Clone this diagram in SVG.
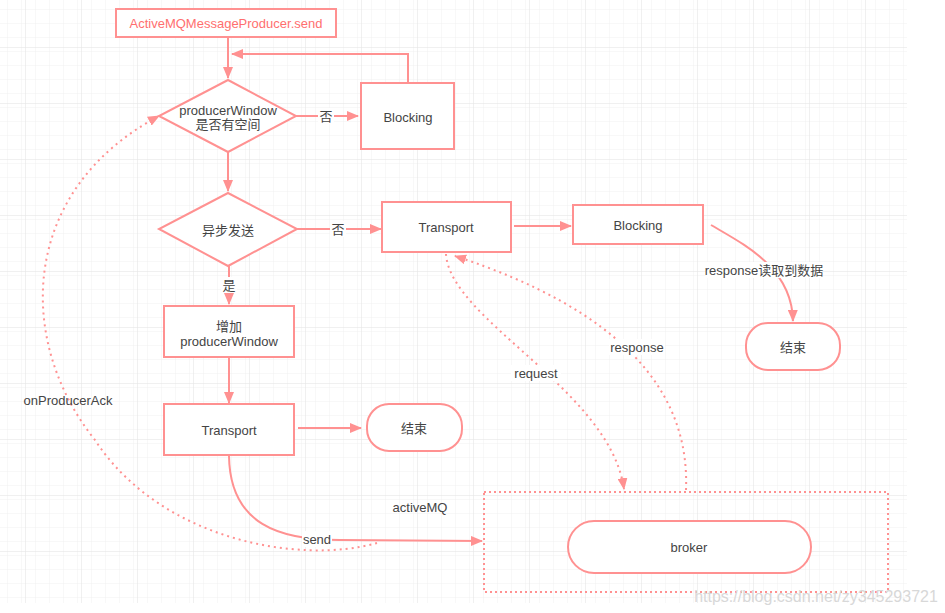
<svg xmlns="http://www.w3.org/2000/svg" width="945" height="613" viewBox="0 0 945 613">
<style>
.n{fill:#fff;stroke:#FF9191;stroke-width:2}
.t{font-family:"Liberation Sans","Noto Sans CJK SC",sans-serif;font-size:13px;fill:#444;text-anchor:middle;dominant-baseline:central}
.l{stroke:#FF9191;stroke-width:2;fill:none}
.d{stroke:#FF9191;stroke-width:2;fill:none;stroke-dasharray:2 4}
.bg{fill:#fff}
</style>
<defs>
<pattern id="gm" width="14" height="14" patternUnits="userSpaceOnUse" patternTransform="translate(25,47)">
<path d="M14,0V14M0,14H14" stroke="#f0f0f0" stroke-width="1" fill="none"/>
</pattern>
<pattern id="gM" width="56" height="56" patternUnits="userSpaceOnUse" patternTransform="translate(25,47)">
<rect width="56" height="56" fill="url(#gm)"/>
<path d="M0,0V56M0,0H56" stroke="#e2e2e2" stroke-width="1" fill="none"/>
</pattern>
<marker id="a" viewBox="0 0 12 10" refX="11" refY="5" markerWidth="12" markerHeight="10" markerUnits="userSpaceOnUse" orient="auto">
<path d="M0,0L12,5L0,10Z" fill="#FF9191"/>
</marker>
</defs>
<rect width="945" height="613" fill="#fff"/>
<rect x="0" y="0" width="907" height="603" fill="url(#gM)"/>

<g id="connectors">
<path class="l" d="M228,37V78" marker-end="url(#a)"/>
<path class="l" d="M408,83V54H232" marker-end="url(#a)"/>
<path class="l" d="M296,116H358" marker-end="url(#a)"/>
<rect class="bg" x="318" y="108" width="16" height="16"/>
<text class="t" x="326" y="116">否</text>
<path class="l" d="M228,152V191" marker-end="url(#a)"/>
<path class="l" d="M297,229H381" marker-end="url(#a)"/>
<rect class="bg" x="330" y="221" width="16" height="16"/>
<text class="t" x="338" y="229">否</text>
<path class="l" d="M229,266V304" marker-end="url(#a)"/>
<rect class="bg" x="221" y="277" width="16" height="16"/>
<text class="t" x="229" y="285">是</text>
<path class="l" d="M229,357V403" marker-end="url(#a)"/>
<path class="l" d="M298,428H361" marker-end="url(#a)"/>
<path class="l" d="M514,226H571" marker-end="url(#a)"/>
<path class="l" d="M711,225C745,245 792,268 793,321" marker-end="url(#a)"/>
<rect class="bg" x="706" y="262" width="116" height="16"/>
<text class="t" x="764" y="270">response读取到数据</text>
<path class="l" d="M229,456C230,525 280,540 340,540L482,541" marker-end="url(#a)"/>
<path class="d" d="M377,543C300,565 160,540 95,440C15,340 20,190 159,116" marker-end="url(#a)"/>
<rect class="bg" x="302" y="531" width="30" height="16"/>
<text class="t" x="317" y="539">send</text>
<path class="d" d="M446,254C450,320 610,390 624,489" marker-end="url(#a)"/>
<path class="d" d="M686,490C690,390 620,310 455,256" marker-end="url(#a)"/>
<rect class="bg" x="511" y="365" width="50" height="16"/>
<text class="t" x="536" y="373">request</text>
<rect class="bg" x="609" y="339" width="56" height="16"/>
<text class="t" x="637" y="347">response</text>
<text class="t" x="68" y="400">onProducerAck</text>
</g>

<g id="start">
<rect class="n" x="116" y="9" width="220" height="28"/>
<text class="t" x="226" y="23" style="fill:#FF6F6F">ActiveMQMessageProducer.send</text>
</g>
<g id="window-check">
<path class="n" d="M228,80L296,116L228,152L159,116Z"/>
<text class="t" x="228" y="110">producerWindow</text>
<text class="t" x="228" y="124">是否有空间</text>
</g>
<g id="blocking1">
<rect class="n" x="361" y="83" width="93" height="66"/>
<text class="t" x="408" y="117">Blocking</text>
</g>
<g id="async-check">
<path class="n" d="M228,193L297,229L228,266L159,229Z"/>
<text class="t" x="228" y="230">异步发送</text>
</g>
<g id="transport1">
<rect class="n" x="382" y="202" width="129" height="50"/>
<text class="t" x="446" y="227">Transport</text>
</g>
<g id="blocking2">
<rect class="n" x="573" y="205" width="130" height="39"/>
<text class="t" x="638" y="225">Blocking</text>
</g>
<g id="end2">
<rect class="n" x="746" y="323" width="94" height="47" rx="22"/>
<text class="t" x="793" y="347">结束</text>
</g>
<g id="add-window">
<rect class="n" x="164" y="306" width="130" height="51"/>
<text class="t" x="229" y="326">增加</text>
<text class="t" x="229" y="341">producerWindow</text>
</g>
<g id="transport2">
<rect class="n" x="164" y="404" width="130" height="51"/>
<text class="t" x="229" y="430">Transport</text>
</g>
<g id="end1">
<rect class="n" x="367" y="404" width="95" height="47" rx="22"/>
<text class="t" x="414" y="428">结束</text>
</g>
<g id="activemq">
<rect x="484" y="492" width="404" height="100" fill="none" stroke="#FF9191" stroke-width="2" stroke-dasharray="2 3"/>
<text class="t" x="420" y="507">activeMQ</text>
</g>
<g id="broker">
<rect class="n" x="568" y="521" width="243" height="52" rx="26"/>
<text class="t" x="689" y="547">broker</text>
</g>
<text x="816" y="596" style="font-family:'Liberation Sans',sans-serif;font-size:16px;fill:#d8d8d8;text-anchor:middle;dominant-baseline:central">https://blog.csdn.net/zy345293721</text>
</svg>
